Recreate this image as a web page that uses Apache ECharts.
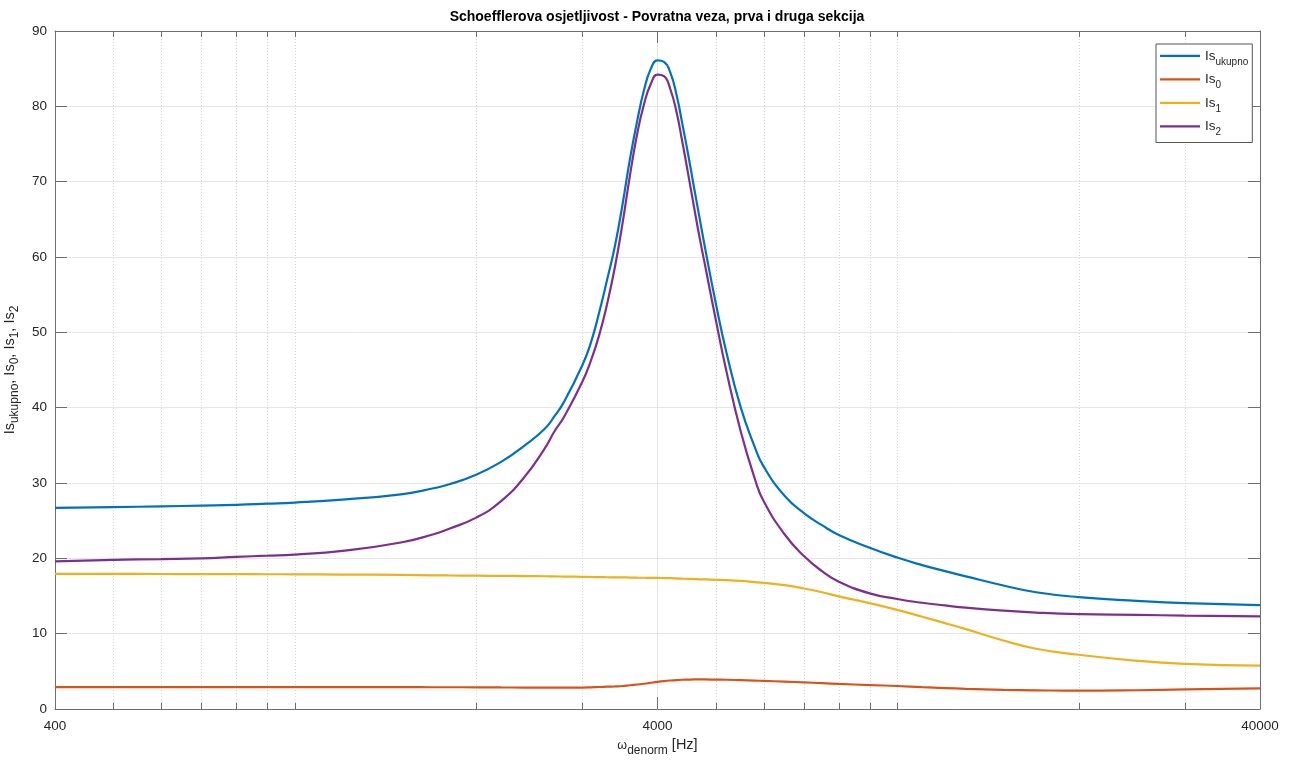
<!DOCTYPE html>
<html><head><meta charset="utf-8">
<script src="https://cdn.jsdelivr.net/npm/echarts@6/dist/echarts.min.js"></script>
<style>html,body{margin:0;padding:0;background:#fff}#c{width:1296px;height:760px}</style>
</head><body><div id="c"></div>
<script>
// ---- data ----
const freqHz = [400, 500, 600, 700, 800, 900, 1000, 1200, 1500, 1700, 1800, 2000, 2200, 2400, 2600, 2700, 2800, 3000, 3100, 3200, 3300, 3400, 3500, 3600, 3700, 3800, 3900, 4000, 4100, 4200, 4300, 4400, 4500, 4600, 4700, 4800, 5000, 5200, 5500, 5800, 6000, 6500, 7000, 7500, 8000, 9000, 10000, 11000, 12000, 13000, 15000, 17000, 20000, 25000, 30000, 40000];
const isUkupno = [26.7, 26.8, 26.9, 27.0, 27.1, 27.25, 27.4, 27.8, 28.5, 29.3, 29.8, 31.1, 32.8, 34.9, 37.2, 38.9, 40.8, 45.6, 48.6, 52.6, 57.0, 61.5, 67.0, 73.0, 78.0, 82.2, 85.0, 86.1, 85.9, 84.5, 81.6, 77.6, 73.5, 69.2, 65.1, 61.1, 53.8, 47.5, 40.0, 34.8, 32.2, 28.3, 26.0, 24.4, 23.1, 21.4, 20.1, 19.1, 18.3, 17.6, 16.4, 15.5, 14.85, 14.35, 14.05, 13.8];
const is0 = [2.9, 2.9, 2.9, 2.9, 2.9, 2.9, 2.9, 2.9, 2.9, 2.89, 2.89, 2.88, 2.86, 2.85, 2.84, 2.83, 2.83, 2.85, 2.88, 2.92, 2.96, 3.0, 3.05, 3.15, 3.25, 3.35, 3.48, 3.6, 3.7, 3.78, 3.84, 3.88, 3.9, 3.92, 3.92, 3.92, 3.9, 3.88, 3.82, 3.77, 3.73, 3.63, 3.53, 3.43, 3.33, 3.18, 3.05, 2.9, 2.78, 2.68, 2.55, 2.48, 2.43, 2.49, 2.6, 2.75];
const is1 = [17.95, 17.93, 17.92, 17.9, 17.9, 17.89, 17.88, 17.85, 17.8, 17.75, 17.73, 17.7, 17.67, 17.65, 17.62, 17.6, 17.58, 17.55, 17.52, 17.5, 17.49, 17.48, 17.47, 17.45, 17.43, 17.42, 17.4, 17.4, 17.38, 17.36, 17.33, 17.3, 17.28, 17.25, 17.22, 17.2, 17.15, 17.1, 17.0, 16.85, 16.75, 16.45, 16.0, 15.5, 14.95, 14.05, 13.15, 12.25, 11.4, 10.6, 9.1, 8.0, 7.2, 6.4, 6.0, 5.75];
const is2 = [19.6, 19.8, 19.9, 20.0, 20.2, 20.35, 20.5, 21.0, 22.1, 23.2, 23.9, 25.4, 27.6, 30.7, 34.6, 36.9, 38.8, 43.4, 46.2, 49.6, 53.8, 58.7, 64.5, 70.8, 76.3, 80.3, 83.0, 84.2, 84.0, 82.3, 79.3, 75.2, 70.9, 66.6, 62.5, 58.8, 51.6, 45.0, 36.8, 30.6, 27.6, 23.2, 20.3, 18.3, 16.9, 15.35, 14.6, 14.1, 13.75, 13.45, 13.05, 12.8, 12.6, 12.5, 12.4, 12.3];
const seriesNames = ['Is_ukupno', 'Is_0', 'Is_1', 'Is_2'];
const xTickFreqs = [400, 4000, 40000];
const xTickLabels = ['400', '4000', '40000'];
const xMinorFreqs = [500, 600, 700, 800, 900, 1000, 2000, 3000, 5000, 6000, 7000, 8000, 9000, 10000, 20000, 30000];
const yMin = 0, yMax = 90, yStep = 10;

// ---- chart ----
const FONT = 'Liberation Sans, Arial, Helvetica, sans-serif';
const AX = '#6e6e6e';
const TXT = '#262626';
const u = f => Math.log10(f / xTickFreqs[0]);
const uMax = u(xTickFreqs[xTickFreqs.length - 1]);
const colors = ['#0072BD', '#D95319', '#EDB120', '#7E2F8E'];
const values = [isUkupno, is0, is1, is2];

const chart = echarts.init(document.getElementById('c'), null, {renderer: 'canvas'});

const xAxisBase = {
  type: 'value', min: 0, max: uMax, interval: 1,
  axisLine: {show: true, onZero: false, lineStyle: {color: AX, width: 1}},
  axisTick: {show: true, inside: true, length: 12, lineStyle: {color: AX}},
  splitLine: {show: false},
};
const yAxisBase = {
  type: 'value', min: yMin, max: yMax, interval: yStep,
  axisLine: {show: true, onZero: false, lineStyle: {color: AX, width: 1}},
  axisTick: {show: true, inside: true, length: 12, lineStyle: {color: AX}},
};

const lineSeries = seriesNames.map((name, k) => ({
  name, type: 'line', xAxisIndex: 0, yAxisIndex: 0,
  data: freqHz.map((f, i) => [u(f), values[k][i]]),
  symbol: 'none', smooth: 0.5,
  lineStyle: {color: colors[k], width: 2.2},
  itemStyle: {color: colors[k]},
  z: 10 + k, silent: true
}));

const minorSeries = {
  type: 'custom', xAxisIndex: 0, yAxisIndex: 0, silent: true, z: 1,
  data: xMinorFreqs.map(f => [u(f)]),
  renderItem(params, api) {
    const b = api.coord([api.value(0), yMin]);
    const t = api.coord([api.value(0), yMax]);
    const x = Math.round(b[0]) + 0.5;
    return {type: 'group', children: [
      {type: 'line', shape: {x1: x, y1: b[1], x2: x, y2: t[1]}, style: {stroke: '#d9d9d9', lineWidth: 1, lineDash: [1, 2]}},
      {type: 'line', shape: {x1: x, y1: b[1], x2: x, y2: b[1] - 6}, style: {stroke: AX, lineWidth: 1}},
      {type: 'line', shape: {x1: x, y1: t[1], x2: x, y2: t[1] + 6}, style: {stroke: AX, lineWidth: 1}}
    ]};
  }
};

const labelRich = {
  m: {fontFamily: FONT, fontSize: 14.5, color: TXT, lineHeight: 22},
  w: {fontFamily: FONT, fontSize: 12.5, color: TXT, lineHeight: 22},
  s: {fontFamily: FONT, fontSize: 12, color: TXT, lineHeight: 12, verticalAlign: 'bottom'}
};

const option = {
  backgroundColor: '#ffffff',
  animation: false,
  textStyle: {fontFamily: FONT},
  title: {
    text: 'Schoefflerova osjetljivost - Povratna veza, prva i druga sekcija',
    left: 657, top: 10, textAlign: 'center', padding: 0,
    textStyle: {fontFamily: FONT, fontSize: 14, fontWeight: 'bold', color: '#000'}
  },
  grid: {left: 55, right: 36, top: 31, bottom: 51, containLabel: false, outerBoundsMode: 'none'},
  legend: {
    orient: 'vertical', left: 1156, top: 44,
    padding: [4.8, 4, 5.2, 4], itemGap: 5.5, itemWidth: 40, itemHeight: 2.2,
    icon: 'rect',
    backgroundColor: '#fff', borderColor: '#555', borderWidth: 1, borderRadius: 0,
    data: seriesNames,
    formatter: n => { const p = n.split('_'); return '{m|' + p[0] + '}{s|' + p[1] + '}'; },
    textStyle: {fontFamily: FONT, color: TXT, rich: {
      m: {fontFamily: FONT, fontSize: 13.5, color: TXT, lineHeight: 22},
      s: {fontFamily: FONT, fontSize: 10, color: TXT, lineHeight: 12, verticalAlign: 'bottom'}
    }}
  },
  xAxis: [
    Object.assign({}, xAxisBase, {
      position: 'bottom',
      splitLine: {show: true, lineStyle: {color: '#e3e3e3', width: 1}},
      axisLabel: {show: true, margin: 10, fontFamily: FONT, fontSize: 13.5, color: TXT,
        formatter: v => { const i = xTickFreqs.findIndex(f => Math.abs(u(f) - v) < 1e-6); return i >= 0 ? xTickLabels[i] : ''; }},
      name: '{w|ω}{s|denorm}{m| [Hz]}', nameLocation: 'middle', nameGap: 25,
      nameTextStyle: {fontFamily: FONT, color: TXT, rich: labelRich}
    }),
    Object.assign({}, xAxisBase, {position: 'top', axisLabel: {show: false}})
  ],
  yAxis: [
    Object.assign({}, yAxisBase, {
      position: 'left',
      splitLine: {show: true, lineStyle: {color: '#e6e6e6', width: 1}},
      axisLabel: {show: true, margin: 8, fontFamily: FONT, fontSize: 13.5, color: TXT},
      name: '{m|Is}{s|ukupno}{m|, Is}{s|0}{m|, Is}{s|1}{m|, Is}{s|2}',
      nameLocation: 'middle', nameGap: 20, nameRotate: 90,
      nameTextStyle: {fontFamily: FONT, color: TXT, rich: labelRich}
    }),
    Object.assign({}, yAxisBase, {position: 'right', axisLabel: {show: false}, splitLine: {show: false}})
  ],
  series: [minorSeries].concat(lineSeries)
};
chart.setOption(option);
</script>
</body></html>
